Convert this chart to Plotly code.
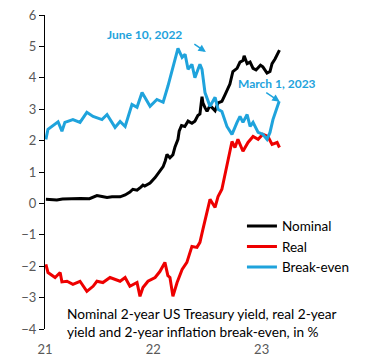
import plotly.graph_objects as go

# ---- data ----
nominal_dates = ["2021-01-04","2021-01-20","2021-02-10","2021-03-01","2021-03-20","2021-04-05","2021-05-01",
    "2021-05-31","2021-06-18","2021-06-25","2021-07-12","2021-07-29","2021-08-15","2021-09-11","2021-09-28",
    "2021-10-14","2021-10-24","2021-11-07","2021-11-20","2021-11-27","2021-12-03","2021-12-21","2022-01-07",
    "2022-01-20","2022-02-03","2022-02-10","2022-02-16","2022-02-26","2022-03-08","2022-03-15","2022-03-25",
    "2022-03-29","2022-04-06","2022-04-17","2022-04-28","2022-05-11","2022-05-21","2022-05-31","2022-06-07",
    "2022-06-14","2022-06-17","2022-06-24","2022-07-01","2022-07-11","2022-07-28","2022-08-07","2022-08-20",
    "2022-08-30","2022-09-16","2022-09-26","2022-10-10","2022-10-20","2022-10-30","2022-11-03","2022-11-13",
    "2022-11-23","2022-12-03","2022-12-13","2022-12-28","2023-01-05","2023-01-19","2023-01-29","2023-02-05",
    "2023-02-15","2023-02-25","2023-03-02"]
nominal = [0.13,0.12,0.11,0.14,0.15,0.16,0.16,
    0.15,0.21,0.25,0.22,0.19,0.21,0.21,0.27,
    0.36,0.45,0.42,0.52,0.58,0.55,0.65,0.82,
    1.00,1.17,1.35,1.56,1.45,1.55,1.80,2.04,
    2.30,2.48,2.45,2.62,2.55,2.62,2.80,2.85,
    3.40,3.20,3.05,2.93,3.12,2.95,3.20,3.25,
    3.45,3.80,4.20,4.30,4.50,4.55,4.70,4.45,
    4.50,4.30,4.25,4.40,4.35,4.15,4.20,4.45,
    4.60,4.80,4.88]

real_dates = ["2021-01-04","2021-01-11","2021-02-04","2021-02-21","2021-02-27","2021-03-16","2021-04-05",
    "2021-04-29","2021-05-22","2021-06-12","2021-06-25","2021-07-15","2021-08-08","2021-08-25","2021-09-11",
    "2021-09-28","2021-10-14","2021-11-07","2021-11-17","2021-11-27","2021-12-14","2022-01-07","2022-01-23",
    "2022-02-09","2022-02-19","2022-02-26","2022-03-08","2022-03-22","2022-04-08","2022-04-24","2022-05-11",
    "2022-05-28","2022-06-07","2022-06-17","2022-07-04","2022-07-11","2022-07-28","2022-08-07","2022-08-20",
    "2022-09-06","2022-09-16","2022-09-23","2022-10-03","2022-10-13","2022-10-30","2022-11-16","2022-12-03",
    "2022-12-20","2023-01-05","2023-01-22","2023-02-05","2023-02-22","2023-03-02"]
real = [-1.94,-2.20,-2.36,-2.20,-2.50,-2.48,-2.58,
    -2.48,-2.80,-2.64,-2.48,-2.52,-2.36,-2.42,-2.48,
    -2.36,-2.64,-2.52,-2.96,-2.68,-2.48,-2.36,-2.17,
    -1.88,-2.30,-2.36,-2.96,-2.52,-2.10,-1.88,-1.37,
    -1.40,-1.24,-0.83,-0.19,0.13,-0.13,0.22,0.45,
    1.18,1.56,1.97,1.78,2.04,1.66,1.94,2.13,
    2.04,2.20,2.13,1.88,1.94,1.78]

be_dates = ["2021-01-04","2021-01-11","2021-02-14","2021-02-27","2021-03-09","2021-04-05","2021-04-29",
    "2021-05-22","2021-06-12","2021-07-12","2021-07-29","2021-08-25","2021-09-11","2021-09-28","2021-10-21",
    "2021-11-07","2021-11-24","2021-12-21","2022-01-13","2022-02-03","2022-02-19","2022-03-08","2022-03-25",
    "2022-04-08","2022-04-18","2022-04-28","2022-05-11","2022-05-21","2022-06-07","2022-06-14","2022-06-24",
    "2022-07-11","2022-07-28","2022-08-07","2022-08-20","2022-09-06","2022-09-23","2022-10-10","2022-10-20",
    "2022-10-30","2022-11-13","2022-11-23","2022-12-03","2022-12-20","2023-01-05","2023-01-19","2023-01-29",
    "2023-02-08","2023-02-22","2023-03-01"]
breakeven = [2.04,2.36,2.60,2.30,2.58,2.67,2.58,
    2.90,2.77,2.67,2.83,2.42,2.61,2.45,3.15,
    3.06,3.53,3.09,3.31,3.22,3.73,4.36,4.94,
    4.65,4.75,4.27,4.43,4.00,4.43,4.27,3.53,
    3.09,3.38,3.00,2.93,2.45,2.20,2.58,2.77,
    2.58,2.83,2.45,2.58,2.26,2.20,2.04,2.26,
    2.67,3.10,3.25]

x_tick_vals = ["2021-01-01", "2022-01-01", "2023-01-01"]
x_tick_text = ["21", "22", "23"]
zero_tick_vals = ["2022-01-01", "2023-01-01", "2024-01-01"]
y_tick_vals = [-4, -3, -2, -1, 0, 1, 2, 3, 4, 5, 6]

caption = "Nominal 2-year US Treasury yield, real 2-year<br>yield and 2-year inflation break-even, in %"
label_june = "June 10, 2022"
label_march = "March 1, 2023"

FONT = "Lato"
BLUE = "#1fa3dc"

fig = go.Figure()
fig.add_trace(go.Scatter(x=nominal_dates, y=nominal, mode="lines", name="Nominal",
                         line=dict(color="#000000", width=3)))
fig.add_trace(go.Scatter(x=real_dates, y=real, mode="lines", name="Real",
                         line=dict(color="#ee0000", width=3)))
fig.add_trace(go.Scatter(x=be_dates, y=breakeven, mode="lines", name="Break-even",
                         line=dict(color=BLUE, width=3)))

xr = ["2021-01-01", "2024-01-01"]
fig.update_layout(
    width=378, height=358,
    margin=dict(l=45, r=8, t=15, b=29, autoexpand=False),
    paper_bgcolor="white", plot_bgcolor="white",
    font=dict(family=FONT, size=13, color="#000000"),
    showlegend=True,
    legend=dict(x=0.606, y=0.377, xanchor="left", yanchor="top", bgcolor="rgba(0,0,0,0)",
                font=dict(size=13.5, color="#000000"), tracegroupgap=0, itemwidth=30),
    xaxis=dict(range=xr, tickvals=x_tick_vals, ticktext=x_tick_text, showgrid=False, automargin=False,
               showline=False, zeroline=False, ticks="", tickfont=dict(color="#595959", size=13),
               ticklabelstandoff=11),
    xaxis2=dict(range=xr, overlaying="x", anchor="free", position=0.4, side="bottom", automargin=False,
                showline=True, linecolor="#000000", linewidth=1, ticks="outside", ticklen=5,
                tickcolor="#000000", tickvals=zero_tick_vals, showticklabels=False,
                showgrid=False, zeroline=False),
    yaxis=dict(range=[-4, 6], tickvals=y_tick_vals, showgrid=False, zeroline=False, automargin=False,
               showline=True, linecolor="#000000", linewidth=1, ticks="outside", ticklen=5,
               tickcolor="#000000", tickfont=dict(color="#595959", size=13)),
)

fig.add_annotation(x="2021-12-02", y=5.38, xref="x", yref="y", text=label_june, showarrow=False,
                   font=dict(color=BLUE, size=12, family=FONT, weight="bold"))
fig.add_annotation(x="2022-06-27", y=4.82, xref="x", yref="y", text="", showarrow=True,
                   arrowhead=2, arrowsize=1, arrowwidth=1.5, arrowcolor=BLUE, ax=-13, ay=-9)
fig.add_annotation(x="2023-02-20", y=3.82, xref="x", yref="y", text=label_march, showarrow=False,
                   font=dict(color=BLUE, size=12, family=FONT, weight="bold"))
fig.add_annotation(x="2023-03-03", y=3.24, xref="x", yref="y", text="", showarrow=True,
                   arrowhead=2, arrowsize=1, arrowwidth=1.5, arrowcolor=BLUE, ax=-15, ay=-10)
fig.add_annotation(x=0.06, y=0.084, xref="paper", yref="paper", xanchor="left", yanchor="top",
                   align="left", text=caption, showarrow=False,
                   font=dict(size=13.7, color="#000000", family=FONT))

fig.write_html("out.html", config={"displayModeBar": False},
               post_script="document.body.style.margin='0px';")
